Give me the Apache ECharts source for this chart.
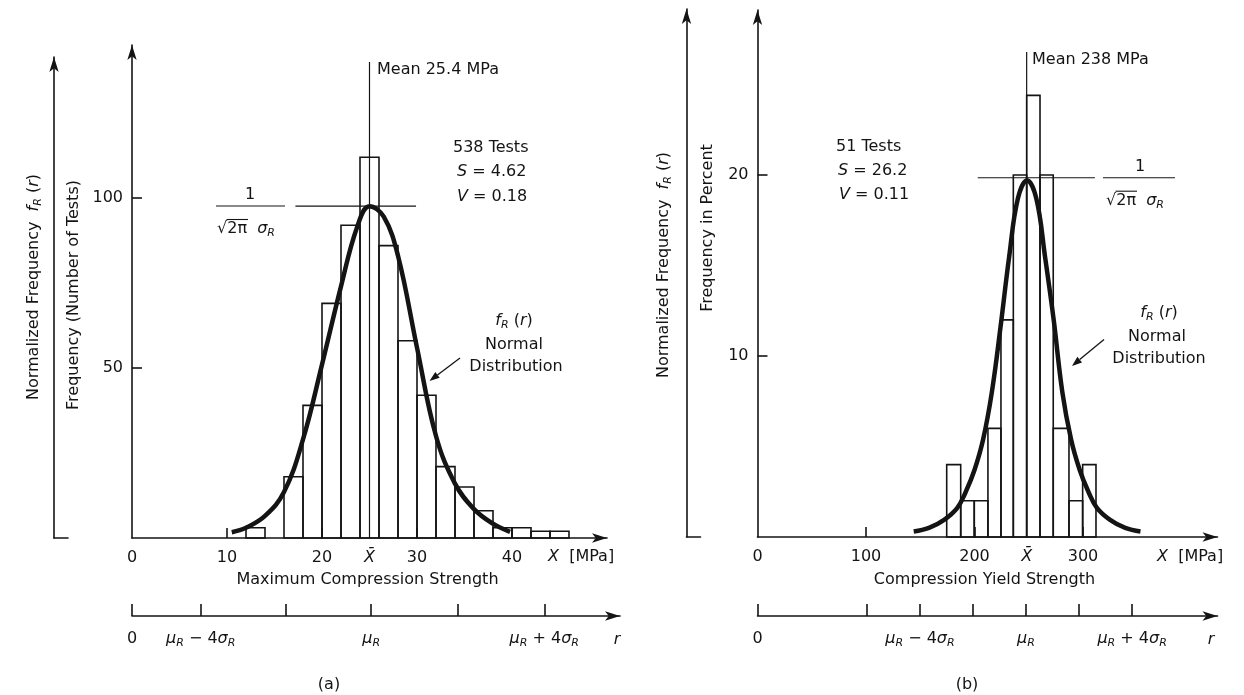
<!DOCTYPE html>
<html><head><meta charset="utf-8">
<script src="https://cdn.jsdelivr.net/npm/echarts@6/dist/echarts.min.js"></script>
<style>html,body{margin:0;padding:0;background:#fff}#c{width:1244px;height:695px}</style>
</head><body><div id="c"></div>
<script>
// ---------------- data ----------------
// (a) Maximum compression strength, 538 tests, bins of 2 MPa
const aBinEdges = [10,12,14,16,18,20,22,24,26,28,30,32,34,36,38,40,42,44,46];
const aCounts   = [0,3,0,18,39,69,92,112,86,58,42,21,15,8,3,3,2,2];
const aCurveX   = [10.5,12,14,16,18,20,22,23.7,25.0,26.5,28,30,32,34,36,38,39.8];
const aCurveY   = [1.7,3.0,6.5,13.5,29,51,74,91.5,97.6,94.5,83,56,30,16,8.5,4.2,1.8];
const aMeanX = 25.0, aMeanTop = 140;
const aPeakLevel = 97.6, aPeakFrom = 17.2, aPeakTo = 29.9;
const aXTickValues = [10,20,30,40];
const aXLabelValues = [0,10,20,30,40];
const aYTickValues = [50,100];
const aRTicks = [0,7.23,16.18,25.18,34.3,43.4];
const aRLabelValues = [0,7.23,25.18,43.4];

// (b) Compression yield strength, 51 tests, frequency in percent
const bBinEdges = [174.4,187.3,199.8,212.4,224.4,235.8,248.1,260.4,272.6,287.1,299.7,312.0];
const bPercents = [4,2,2,6,12,20,24.4,20,6,2,4];
const bCurveX   = [144,158,172,184,192,200,208,216,224,232,240,248.5,257,265,273,281,289,297,305,313,325,339,353];
const bCurveY   = [0.3,0.5,0.95,1.6,2.5,3.7,5.4,8.0,11.6,15.5,18.7,19.7,18.7,15.5,12.0,8.0,5.4,3.7,2.5,1.6,0.95,0.5,0.3];
const bMeanX = 248.1, bMeanTop = 26.8;
const bPeakLevel = 19.85, bPeakFrom = 203, bPeakTo = 311;
const bXTickValues = [100,200,300];
const bXLabelValues = [0,100,200,300];
const bYTickValues = [10,20];
const bRTicks = [0,100.7,149.7,198.5,247.5,296.3,345.3];
const bRLabelValues = [0,149.7,247.5,345.3];

const rLabelTexts = ['0','{it|μ}{sub|R} − 4{it|σ}{sub|R}','{it|μ}{sub|R}','{it|μ}{sub|R} + 4{it|σ}{sub|R}'];

// ---------------- styling ----------------
const FONT = 'DejaVu Sans';
const INK = '#141414';
const FS = 16;
const richAxis = {
  it:  {fontFamily: FONT, fontSize: FS, fontStyle: 'italic', color: INK, lineHeight: 20},
  sub: {fontFamily: FONT, fontSize: 11, fontStyle: 'italic', color: INK, lineHeight: 12, verticalAlign: 'bottom'}
};
const richG = {
  it:  {fontFamily: FONT, fontSize: FS, fontStyle: 'italic', fill: INK, lineHeight: 20},
  sub: {fontFamily: FONT, fontSize: 11, fontStyle: 'italic', fill: INK, lineHeight: 12, verticalAlign: 'bottom'}
};

function near(a, b) { return Math.abs(a - b) < 1e-6; }

function histSeries(edges, vals, axisIdx) {
  return {
    type: 'custom', xAxisIndex: axisIdx, yAxisIndex: axisIdx, z: 2, silent: true,
    data: vals.map((v, i) => [edges[i], edges[i + 1], v]),
    encode: {x: [0, 1], y: 2},
    renderItem: function (params, api) {
      const h = api.value(2);
      if (!h) return null;
      const p0 = api.coord([api.value(0), 0]);
      const p1 = api.coord([api.value(1), h]);
      return {type: 'rect', shape: {x: p0[0], y: p1[1], width: p1[0] - p0[0], height: p0[1] - p1[1]},
              style: {fill: null, stroke: INK, lineWidth: 1.6}};
    }
  };
}
function lineSeries(xs, ys, axisIdx, width, smooth, z) {
  return {type: 'line', xAxisIndex: axisIdx, yAxisIndex: axisIdx, z: z, silent: true,
    data: xs.map((x, i) => [x, ys[i]]), showSymbol: false, symbol: 'none',
    smooth: smooth, lineStyle: {color: INK, width: width}};
}

const axisLineStyle = {color: INK, width: 1.6};
function mainX(grid, max, tickVals, labelVals, meanX) {
  return {
    type: 'value', gridIndex: grid, min: 0, max: max, splitLine: {show: false},
    axisLine: {show: true, lineStyle: axisLineStyle, symbol: ['none', 'arrow'], symbolSize: [7, 15]},
    axisTick: {show: true, inside: true, length: 10, customValues: tickVals, lineStyle: axisLineStyle},
    axisLabel: {show: true, customValues: labelVals.concat([meanX]), margin: 10, fontFamily: FONT, fontSize: FS, color: INK,
      lineHeight: 20, rich: richAxis,
      formatter: v => near(v, meanX) ? '{it|X\u0304}' : String(Math.round(v))}
  };
}
function mainY(grid, max, tickVals) {
  return {
    type: 'value', gridIndex: grid, min: 0, max: max, splitLine: {show: false},
    axisLine: {show: true, lineStyle: axisLineStyle, symbol: ['none', 'arrow'], symbolSize: [7, 15]},
    axisTick: {show: true, inside: true, length: 10, customValues: tickVals, lineStyle: axisLineStyle},
    axisLabel: {show: true, customValues: tickVals, margin: 9, fontFamily: FONT, fontSize: FS, color: INK}
  };
}
function rAxis(grid, max, ticks, labelVals) {
  return {
    type: 'value', gridIndex: grid, min: 0, max: max, splitLine: {show: false},
    axisLine: {show: true, lineStyle: axisLineStyle, symbol: ['none', 'arrow'], symbolSize: [7, 15]},
    axisTick: {show: true, inside: true, length: 12, customValues: ticks, lineStyle: axisLineStyle},
    axisLabel: {show: true, customValues: labelVals, margin: 13, fontFamily: FONT, fontSize: FS, color: INK,
      lineHeight: 20, rich: richAxis,
      formatter: v => { const i = labelVals.findIndex(t => near(t, v)); return i >= 0 ? rLabelTexts[i] : ''; }}
  };
}
function plainAxis(grid, showLine, arrow) {
  return {type: 'value', gridIndex: grid, min: 0, max: 1, splitLine: {show: false},
    axisLine: {show: showLine, lineStyle: axisLineStyle, symbol: arrow ? ['none', 'arrow'] : 'none', symbolSize: [7, 15]},
    axisTick: {show: false}, axisLabel: {show: false}};
}

// ---------------- graphic helpers (annotations) ----------------
function txt(x, y, text, align, extra) {
  return Object.assign({type: 'text', x: x, y: y, silent: true, z: 10,
    style: {text: text, fontFamily: FONT, fontSize: FS, fill: INK, align: align || 'left',
      verticalAlign: 'middle', lineHeight: 20, rich: richG}}, extra || {});
}
function seg(x1, y1, x2, y2, w) {
  return {type: 'line', silent: true, z: 10, shape: {x1: x1, y1: y1, x2: x2, y2: y2}, style: {stroke: INK, lineWidth: w || 1.2}};
}
function arrow(x1, y1, x2, y2) {
  const a = Math.atan2(y2 - y1, x2 - x1), L = 10, W = 3.6;
  const bx = x2 - L * Math.cos(a), by = y2 - L * Math.sin(a);
  const px = -Math.sin(a) * W, py = Math.cos(a) * W;
  return [seg(x1, y1, bx, by, 1.3),
    {type: 'polygon', silent: true, z: 10, shape: {points: [[x2, y2], [bx + px, by + py], [bx - px, by - py]]}, style: {fill: INK}}];
}
function fraction(cx, barX1, barX2, barY, denomLeft) {
  return [
    txt(cx, barY - 11, '1', 'center'),
    seg(barX1, barY, barX2, barY, 1.1),
    txt(denomLeft, barY + 23, '√2π  {it|σ}{sub|R}', 'left'),
    seg(denomLeft + 9.5, barY + 13.5, denomLeft + 31, barY + 13.5, 1.1)
  ];
}

const graphics = [].concat(
  // (a)
  [txt(33.5, 287, 'Normalized Frequency  {it|f}{sub|R} ({it|r})', 'center', {rotation: Math.PI / 2}),
   txt(74, 295, 'Frequency (Number of Tests)', 'center', {rotation: Math.PI / 2}),
   txt(377, 70, 'Mean 25.4 MPa'),
   txt(453, 148, '538 Tests'),
   txt(457, 172, '{it|S} = 4.62'),
   txt(457, 197, '{it|V} = 0.18'),
   txt(514, 321, '{it|f}{sub|R} ({it|r})', 'center'),
   txt(514, 345, 'Normal', 'center'),
   txt(516, 367, 'Distribution', 'center'),
   txt(548, 557, '{it|X}  [MPa]'),
   txt(367.5, 580, 'Maximum Compression Strength', 'center'),
   txt(617, 640, '{it|r}', 'center'),
   txt(329, 685, '(a)', 'center')],
  fraction(250, 216, 285, 206, 217),
  arrow(460, 358, 429.5, 381),
  // (b)
  [txt(664, 265, 'Normalized Frequency  {it|f}{sub|R} ({it|r})', 'center', {rotation: Math.PI / 2}),
   txt(707.5, 228, 'Frequency in Percent', 'center', {rotation: Math.PI / 2}),
   txt(1032, 60, 'Mean 238 MPa'),
   txt(836, 147, '51 Tests'),
   txt(838, 171, '{it|S} = 26.2'),
   txt(839, 195, '{it|V} = 0.11'),
   txt(1159, 313, '{it|f}{sub|R} ({it|r})', 'center'),
   txt(1157, 337, 'Normal', 'center'),
   txt(1159, 359, 'Distribution', 'center'),
   txt(1157, 557, '{it|X}  [MPa]'),
   txt(984.5, 580, 'Compression Yield Strength', 'center'),
   txt(1211, 640, '{it|r}', 'center'),
   txt(967, 685, '(b)', 'center')],
  fraction(1140, 1103, 1175, 177.7, 1106),
  arrow(1104, 339.5, 1072, 366)
);

const option = {
  animation: false,
  backgroundColor: '#ffffff',
  grid: [
    {left: 132, top: 45, width: 475, height: 493, outerBoundsMode: 'none'},     // (a) main
    {left: 757.5, top: 10, width: 460, height: 527, outerBoundsMode: 'none'},   // (b) main
    {left: 54, top: 57, width: 14, height: 481, outerBoundsMode: 'none'},      // (a) normalized axis
    {left: 686.5, top: 9, width: 14, height: 528, outerBoundsMode: 'none'},    // (b) normalized axis
    {left: 132, top: 596, width: 488, height: 20, outerBoundsMode: 'none'},    // (a) r axis
    {left: 757.5, top: 596, width: 460, height: 20, outerBoundsMode: 'none'}   // (b) r axis
  ],
  xAxis: [
    mainX(0, 50, aXTickValues, aXLabelValues, aMeanX),
    mainX(1, 424, bXTickValues, bXLabelValues, bMeanX),
    plainAxis(2, true, false),
    plainAxis(3, true, false),
    rAxis(4, 51.37, aRTicks, aRLabelValues),
    rAxis(5, 424, bRTicks, bRLabelValues)
  ],
  yAxis: [
    mainY(0, 145, aYTickValues),
    mainY(1, 29.12, bYTickValues),
    plainAxis(2, true, true),
    plainAxis(3, true, true),
    Object.assign(plainAxis(4, false, false), {show: false}),
    Object.assign(plainAxis(5, false, false), {show: false})
  ],
  series: [
    histSeries(aBinEdges, aCounts, 0),
    lineSeries([aMeanX, aMeanX], [0, aMeanTop], 0, 1.2, false, 3),
    lineSeries([aPeakFrom, aPeakTo], [aPeakLevel, aPeakLevel], 0, 1.1, false, 3),
    lineSeries(aCurveX, aCurveY, 0, 4.5, 0.4, 4),
    histSeries(bBinEdges, bPercents, 1),
    lineSeries([bMeanX, bMeanX], [0, bMeanTop], 1, 1.2, false, 3),
    lineSeries([bPeakFrom, bPeakTo], [bPeakLevel, bPeakLevel], 1, 1.1, false, 3),
    lineSeries(bCurveX, bCurveY, 1, 4.5, 0.4, 4)
  ],
  graphic: {elements: graphics}
};

const chart = echarts.init(document.getElementById('c'), null, {renderer: 'canvas'});
chart.setOption(option);
</script></body></html>
